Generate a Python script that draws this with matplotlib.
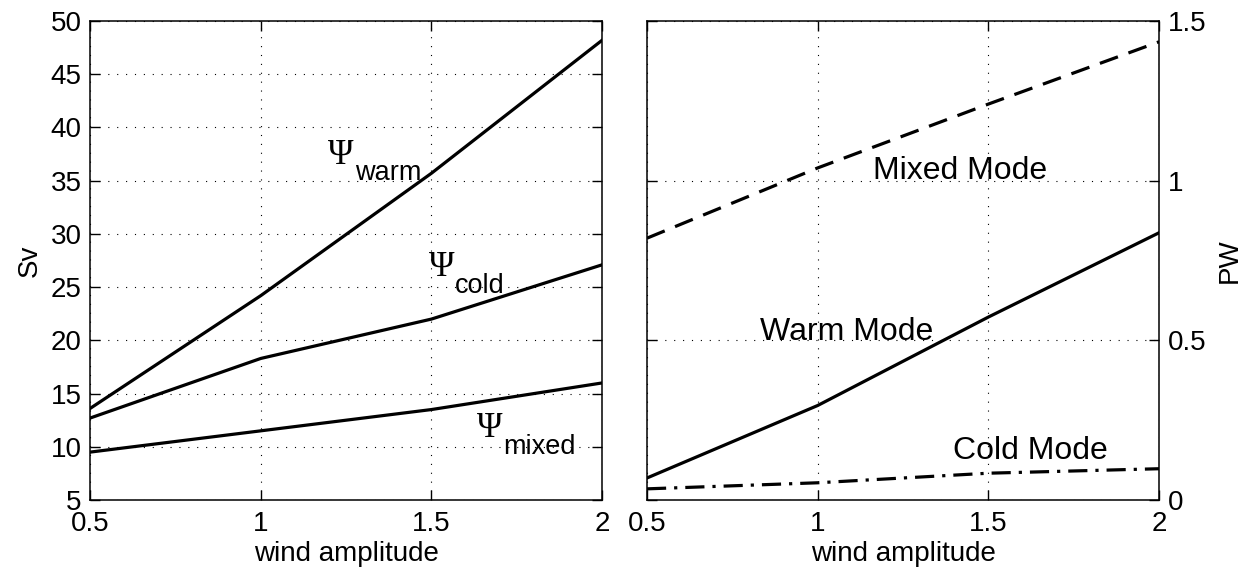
import numpy as np
import matplotlib
matplotlib.use('Agg')
import matplotlib.pyplot as plt

plt.rcParams['font.family'] = ['Liberation Sans', 'DejaVu Sans']
plt.rcParams['font.size'] = 20

# wind amplitude (common x axis)
wind = [0.5, 1.0, 1.5, 2.0]

# overturning transports, Sv
psi_warm = [13.6, 24.2, 35.7, 48.2]
psi_cold = [12.7, 18.3, 22.0, 27.1]
psi_mixed = [9.5, 11.5, 13.5, 16.0]

# heat transport by mode, PW
pw_mixed = [0.82, 1.04, 1.24, 1.435]
pw_warm = [0.069, 0.296, 0.573, 0.837]
pw_cold = [0.035, 0.054, 0.084, 0.098]

xticks = [0.5, 1, 1.5, 2]
xticklabels = ['0.5', '1', '1.5', '2']

fig = plt.figure(figsize=(12.49, 5.75), dpi=100)
ax1 = fig.add_axes([0.0721, 0.1304, 0.41, 0.833])
ax2 = fig.add_axes([0.518, 0.1304, 0.41, 0.833])

lw = 2.3
grid_kw = dict(color='black', linestyle=(0, (1, 7)), linewidth=0.8)


def style(ax):
    ax.set_xlim(0.5, 2)
    ax.set_xticks(xticks)
    ax.set_xticklabels(xticklabels)
    ax.tick_params(direction='in', length=7, width=1, top=True, right=True,
                   labelsize=20)
    ax.tick_params(axis='x', pad=8)
    ax.tick_params(axis='y', pad=6)
    ax.grid(True, **grid_kw)
    for s in ax.spines.values():
        s.set_linewidth(1.1)
    ax.set_xlabel('wind amplitude', fontsize=20, labelpad=3)


# left: transports
ax1.plot(wind, psi_warm, color='black', lw=lw)
ax1.plot(wind, psi_cold, color='black', lw=lw)
ax1.plot(wind, psi_mixed, color='black', lw=lw)
style(ax1)
ax1.set_ylim(5, 50)
ax1.set_yticks(np.arange(5, 51, 5))
ax1.set_ylabel('Sv', fontsize=20, labelpad=6)


def psi_label(ax, x, y, sub):
    ax.text(x, y, '\u03a8', fontsize=25, family='Liberation Serif',
            va='baseline', ha='left')
    ax.annotate(sub, (x, y), xytext=(19, -12), textcoords='offset points',
                fontsize=19.5, va='baseline', ha='left')


psi_label(ax1, 1.198, 36.6, 'warm')
psi_label(ax1, 1.492, 26.0, 'cold')
psi_label(ax1, 1.633, 10.9, 'mixed')

# right: heat transport
ax2.plot(wind, pw_mixed, color='black', lw=lw, linestyle=(0, (6, 3.5)))
ax2.plot(wind, pw_warm, color='black', lw=lw)
ax2.plot(wind, pw_cold, color='black', lw=lw, linestyle=(0, (6, 2.5, 1, 2.5)))
style(ax2)
ax2.set_ylim(0, 1.5)
ax2.set_yticks([0, 0.5, 1, 1.5])
ax2.set_yticklabels(['0', '0.5', '1', '1.5'])
ax2.yaxis.tick_right()
ax2.tick_params(axis='y', left=True, right=True, labelleft=False,
                labelright=True)
ax2.yaxis.set_label_position('right')
ax2.set_ylabel('PW', fontsize=20, labelpad=8)

ax2.text(1.162, 1.005, 'Mixed Mode', fontsize=23, va='baseline')
ax2.text(0.832, 0.50, 'Warm Mode', fontsize=23, va='baseline')
ax2.text(1.395, 0.129, 'Cold Mode', fontsize=23, va='baseline')

fig.savefig('out.png', dpi=100)
